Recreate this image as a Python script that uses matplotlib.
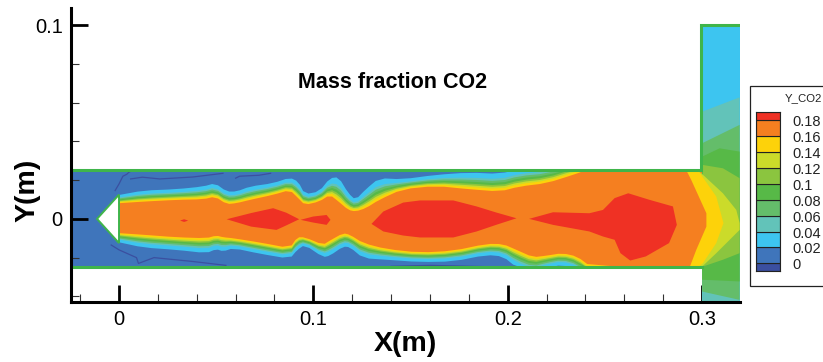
import numpy as np
import matplotlib
matplotlib.use("Agg")
import matplotlib.pyplot as plt
from matplotlib.patches import Rectangle
from matplotlib.ticker import MultipleLocator
from matplotlib.transforms import ScaledTranslation

plt.rcParams["font.family"] = ["Liberation Sans", "DejaVu Sans"]

# ── Colours, low to high ──────────────────────────────────────────────────────
DARK_BLUE = "#3B4FA0"
BLUE = "#3F75BB"
CYAN = "#3DC5F0"
TEAL = "#62C3B9"
LIGHT_GREEN = "#64BD6A"
DARK_GREEN = "#57B947"
GREEN = "#8BC53F"
YELLOW_GREEN = "#CBDB2A"
YELLOW = "#FDD20A"
ORANGE = "#F57F20"
RED = "#EF3124"
WALL = "#3FB54A"

LEVEL_VALUES = [0, 0.02, 0.04, 0.06, 0.08, 0.1, 0.12, 0.14, 0.16, 0.18]
LEVEL_LABELS = ["0", "0.02", "0.04", "0.06", "0.08", "0.1", "0.12", "0.14", "0.16", "0.18"]
BAR_COLORS = [DARK_BLUE, BLUE, CYAN, TEAL, LIGHT_GREEN, DARK_GREEN, GREEN,
              YELLOW_GREEN, YELLOW, ORANGE, RED]

# ── Jet edges, all in mm ──────────────────────────────────────────────────────
upper_x = [0.5, 12.5, 29.6, 43.4, 49.4, 55.4, 60.5, 67.4, 79.3, 87.9, 92.2, 95.6,
           103, 108.5, 113, 118, 121.7, 127, 133.8, 145.8, 163, 180, 196, 206,
           220, 233.6, 240, 300]
upper_outer = [12.4, 14.6, 15.3, 16.7, 18.4, 14.1, 14.1, 16.7, 18.4, 21.3, 19.2, 12.7,
               14.1, 21, 21.5, 13.2, 9.8, 15.3, 21, 20.4, 22.7, 23.9, 23.2, 26,
               27, 31, 34, 34]
upper_inner = [8.1, 8.9, 9.8, 10.1, 11.5, 7.6, 8.1, 9.8, 12.4, 14.9, 10.7, 7.2,
               8.9, 12.4, 8.9, 4.6, 3.8, 5.5, 9.8, 15.3, 17, 15.3, 14.1, 16.7,
               18.4, 22.7, 25, 25]

lower_x = [0.5, 12.5, 29.6, 45, 50, 53.6, 58.8, 72.5, 87.9, 91.7, 95.6, 105,
           108.5, 115.3, 118.8, 125.6, 137.6, 154.8, 172, 189, 197.6, 204.5, 213,
           219.9, 228, 235.7, 242.6, 300]
lower_outer = [-12.2, -14.8, -16, -17.7, -15.6, -16.8, -15.1, -18, -20.6, -16, -13.4, -19.8,
               -19, -14.3, -14.6, -20.3, -21.1, -22.3, -22, -18.6, -19.4, -25, -28,
               -25.4, -23.7, -26.3, -33, -33]
lower_inner = [-7.4, -8.2, -9.5, -10, -8.6, -9.5, -10, -12.2, -15.1, -9.5, -9.5, -13.4,
               -11.2, -7.4, -8.2, -12.5, -15.6, -17.4, -16.5, -12.9, -13, -16, -19.8,
               -19, -17.7, -19.4, -24.6, -25]

# where each colour starts between the outer and inner edge
band_colors = [CYAN, TEAL, LIGHT_GREEN, DARK_GREEN, GREEN, YELLOW_GREEN, YELLOW, ORANGE]
band_fractions = [0, 0.3, 0.42, 0.54, 0.66, 0.76, 0.86, 1]

# ── Red cores ─────────────────────────────────────────────────────────────────
core_1_x = [31.4, 33.5, 35.6, 33.5]
core_1_y = [-0.9, -0.2, -0.9, -1.6]
core_2_x = [55.4, 68, 79.3, 86, 92.7, 86, 81, 68]
core_2_y = [-0.2, 3, 5.5, 3.2, -0.2, -3.4, -5.7, -4]
core_3_x = [93.4, 99.9, 106.8, 108.8, 106.8, 99.9]
core_3_y = [-0.5, 1.2, 2, -0.5, -3.1, -1.9]
core_4_x = [129.9, 136, 146.2, 154.8, 172, 184, 194, 204.5, 194, 184, 172, 154.8, 146.2, 136]
core_4_y = [-2.6, 3.8, 8.4, 9.5, 9.5, 6.4, 3.3, 0.3, -3.1, -6.5, -9.6, -9.6, -8.6, -6.5]
core_5_x = [211, 223.3, 242, 249, 255, 262, 273, 285, 287, 283, 271, 263, 258, 255, 249, 242, 223.3]
core_5_y = [0, 3.4, 2.9, 4.6, 10.7, 13.2, 9.8, 6.4, -3.1, -12.5, -19.4, -21.5, -17.7, -10.8, -9.1, -6.5, -3.1]

# ── Outlet regions, drawn lowest level first ──────────────────────────────────
teal_x = [300, 319.3, 319.3, 300]
teal_y = [55.3, 62.7, -43, -43]
light_green_x = [300, 319.3, 319.3, 300]
light_green_y = [39, 48.5, -41.8, -37.5]
dark_green_x = [300, 309, 319.3, 319.3, 300]
dark_green_y = [32.1, 36.4, 34.7, -32.3, -31.4]
green_x = [300.4, 310.7, 319.3, 319.3, 310.7, 300.4]
green_y = [27.8, 26.1, 21, -17.7, -21.1, -24.6]
yellow_green_x = [291, 298, 310.7, 317.6, 319.3, 319.3, 315.9, 307.3, 299.6, 291]
yellow_green_y = [25, 25, 13.2, 4.6, -2.2, -5.7, -9.1, -17.7, -25, -25]
yellow_x = [288, 297.9, 307.3, 311, 307.3, 300.4, 297.9, 288]
yellow_y = [25, 25, 11.5, -2.2, -12.5, -22.9, -25, -25]
orange_x = [285, 291.9, 294.4, 302.2, 302.2, 297, 293.6, 285]
orange_y = [25, 25, 20.1, 2.9, -4, -16, -25, -25]

# ── Faint dark blue contour near the walls ────────────────────────────────────
wisp_1_x = [-2, 0, 2, 4, 5, 6]
wisp_1_y = [14.6, 18, 22, 23, 24, 24.5]
wisp_2_x = [6, 12, 21, 38, 53.5]
wisp_2_y = [20.6, 21.5, 20.6, 21.6, 23.5]
wisp_3_x = [60, 62, 72, 78]
wisp_3_y = [21, 22, 22.5, 23.5]
wisp_4_x = [-4, 0, 9, 10, 18, 38, 55]
wisp_4_y = [-13.5, -16, -20, -23, -20, -22, -24]
wisp_5_x = [140, 160, 190]
wisp_5_y = [-24.5, -24, -24.7]


MM = 1e-3


def chaikin(xs, ys, passes=1):
    # corner cutting so the read-off jet edges come out rounded
    xs, ys = np.asarray(xs, float), np.asarray(ys, float)
    for _ in range(passes):
        x0, y0, x1, y1 = xs[:-1], ys[:-1], xs[1:], ys[1:]
        qx = np.column_stack([0.75 * x0 + 0.25 * x1, 0.25 * x0 + 0.75 * x1]).ravel()
        qy = np.column_stack([0.75 * y0 + 0.25 * y1, 0.25 * y0 + 0.75 * y1]).ravel()
        xs = np.concatenate([xs[:1], qx, xs[-1:]])
        ys = np.concatenate([ys[:1], qy, ys[-1:]])
    return xs, ys


def band_polygon(frac):
    up = np.array(upper_outer) + frac * (np.array(upper_inner) - np.array(upper_outer))
    lo = np.array(lower_outer) + frac * (np.array(lower_inner) - np.array(lower_outer))
    ux, uy = chaikin(upper_x, up)
    lx, ly = chaikin(lower_x, lo)
    xs = np.concatenate([ux, lx[::-1]])
    ys = np.clip(np.concatenate([uy, ly[::-1]]), -25, 25)
    return xs, ys


fig = plt.figure(figsize=(8.23, 3.62), dpi=100)
ax = fig.add_axes([71 / 823, 1 - 302 / 362, (740 - 71) / 823, (302 - 8) / 362])
ax.set_xlim(-0.0247, 0.3195)
ax.set_ylim(-0.0429, 0.1088)

# channel background
ax.fill(np.array([-24.7, 300, 300, -24.7]) * MM, np.array([25, 25, -25, -25]) * MM,
        color=BLUE, lw=0, zorder=1)
for wx, wy in [(wisp_1_x, wisp_1_y), (wisp_2_x, wisp_2_y), (wisp_3_x, wisp_3_y),
               (wisp_4_x, wisp_4_y), (wisp_5_x, wisp_5_y)]:
    ax.plot(np.array(wx) * MM, np.array(wy) * MM, color=DARK_BLUE, lw=0.9, zorder=1.5)

# jet bands
for col, frac in zip(band_colors, band_fractions):
    xs, ys = band_polygon(frac)
    ax.fill(xs * MM, ys * MM, color=col, lw=0, zorder=2)

# outlet column
ax.fill(np.array([300, 319.3, 319.3, 300]) * MM, np.array([100, 100, -43, -43]) * MM,
        color=CYAN, lw=0, zorder=3)
outlet = [(teal_x, teal_y, TEAL), (light_green_x, light_green_y, LIGHT_GREEN),
          (dark_green_x, dark_green_y, DARK_GREEN), (green_x, green_y, GREEN),
          (yellow_green_x, yellow_green_y, YELLOW_GREEN), (yellow_x, yellow_y, YELLOW),
          (orange_x, orange_y, ORANGE)]
for ox, oy, col in outlet:
    ax.fill(np.array(ox) * MM, np.array(oy) * MM, color=col, lw=0, zorder=3)

for cx, cy in [(core_1_x, core_1_y), (core_2_x, core_2_y), (core_3_x, core_3_y),
               (core_4_x, core_4_y), (core_5_x, core_5_y)]:
    ax.fill(np.array(cx) * MM, np.array(cy) * MM, color=RED, lw=0, zorder=4)

# walls and bluff body
ax.plot(np.array([-24.7, 299.5, 299.5, 319.3]) * MM, np.array([25, 25, 100, 100]) * MM,
        color=WALL, lw=2.2, solid_joinstyle="miter", zorder=5)
ax.plot(np.array([-24.7, 300]) * MM, np.array([-25, -25]) * MM, color=WALL, lw=2.2, zorder=5)
ax.fill(np.array([0, -11.3, 0]) * MM, np.array([12.5, 0, -12.5]) * MM,
        facecolor="white", edgecolor=WALL, lw=1.4, zorder=5)

ax.xaxis.set_major_locator(MultipleLocator(0.1))
ax.xaxis.set_minor_locator(MultipleLocator(0.02))
ax.yaxis.set_major_locator(MultipleLocator(0.1))
ax.yaxis.set_minor_locator(MultipleLocator(0.02))
ax.xaxis.set_major_formatter(lambda v, pos: f"{v:.1f}".rstrip("0").rstrip(".") if abs(v) > 1e-9 else "0")
ax.yaxis.set_major_formatter(lambda v, pos: f"{v:.1f}".rstrip("0").rstrip(".") if abs(v) > 1e-9 else "0")
ax.tick_params(which="major", direction="in", length=12, width=2, labelsize=14.5, color="black", pad=6)
ax.tick_params(which="minor", direction="in", length=6, width=0.8, color="#333333")
ax.spines[["top", "right"]].set_visible(False)
ax.spines[["left", "bottom"]].set_linewidth(2.2)
for art in ax.xaxis.get_ticklines(minor=True) + ax.yaxis.get_ticklines(minor=True):
    art.set_zorder(6)
for sp in ax.spines.values():
    sp.set_zorder(7)

fig.text(405.5 / 823, 1 - 344 / 362, "X(m)", fontsize=20.5, fontweight="bold", ha="center", va="center")
fig.text(27 / 823, 1 - 190 / 362, "Y(m)", fontsize=20.5, fontweight="bold", ha="center", va="center", rotation=90)
ax.text(0.141, 0.0705, "Mass fraction CO2", fontsize=15.5, fontweight="bold", ha="center", va="center")

# ── Contour legend ────────────────────────────────────────────────────────────
legend_ax = fig.add_axes([0, 0, 1, 1], zorder=8)
legend_ax.axis("off")
legend_ax.add_patch(Rectangle((749.5 / 823, 1 - 286 / 362), 80 / 823, 200 / 362,
                              facecolor="white", edgecolor="#222222", lw=0.9))
legend_ax.set_xlim(0, 1)
legend_ax.set_ylim(0, 1)
cax = fig.add_axes([756 / 823, 1 - 271 / 362, 24 / 823, (271 - 111.7) / 362], zorder=9)
edges = [-0.0096] + LEVEL_VALUES + [0.1905]
cax.bar(np.zeros(len(BAR_COLORS)), np.diff(edges), bottom=edges[:-1], width=1,
        color=BAR_COLORS, edgecolor="#222222", lw=0.8)
cax.set_xlim(-0.5, 0.5)
cax.set_ylim(edges[0], edges[-1])
cax.set_xticks([])
cax.set_yticks([])
nudge = cax.get_yaxis_transform() + ScaledTranslation(0, -2 / 100, fig.dpi_scale_trans)
for value, label in zip(LEVEL_VALUES, LEVEL_LABELS):
    cax.text(1.5, value, label, transform=nudge, fontsize=10.5, color="#222222",
             ha="left", va="center", clip_on=False)
for sp in cax.spines.values():
    sp.set_linewidth(0.8)
    sp.set_color("#222222")
legend_ax.text(785 / 823, 1 - 98 / 362, "Y_CO2", fontsize=8.2, color="#222222", ha="left", va="center")

fig.savefig("out.png", dpi=100)
